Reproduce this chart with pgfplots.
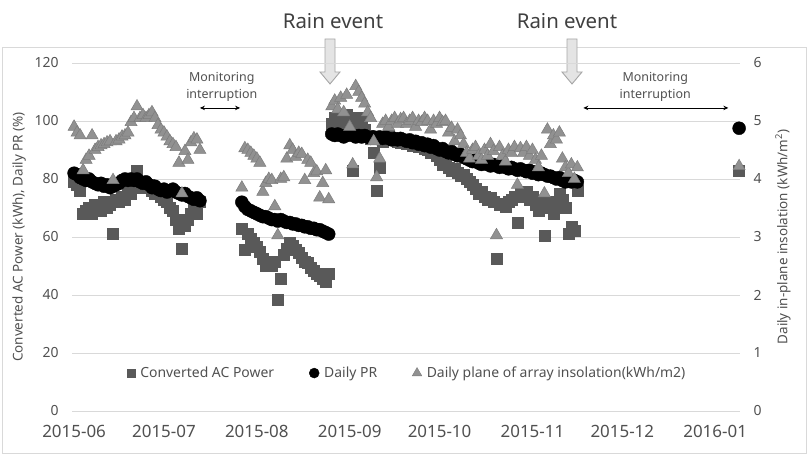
\documentclass[border=0pt]{standalone}
\usepackage{pgfplots}
\pgfplotsset{compat=1.18}
\usepackage{pgfplotstable}
\usepackage{fontspec}
\setmainfont{Noto Sans}
\usetikzlibrary{arrows.meta}

\definecolor{acgray}{HTML}{595959}
\definecolor{insgray}{HTML}{919191}
\definecolor{insedge}{HTML}{7C7C7C}
\definecolor{gridgray}{HTML}{D9D9D9}
\definecolor{txtgray}{HTML}{505050}
\definecolor{headgray}{HTML}{404040}
\definecolor{arrowfill}{HTML}{E4E4E4}
\definecolor{arrowedge}{HTML}{A6A6A6}

% d = days since 2015-06-01, pac = converted AC power (kWh),
% pr = daily performance ratio (%), ins = plane-of-array insolation (kWh/m2)
\pgfplotstableread{
d pac pr ins
0 79 82 4.90
1 78 81.5 4.80
2 76 80.5 4.75
3 68 80 4.15
4 69 79.5 4.33
5 70 80 4.40
6 68 79 4.75
7 71 78.5 4.50
8 70 78 4.55
9 69 78.5 4.58
10 72 77.5 4.60
11 70 78 4.63
12 71 77 4.65
13 61 77.5 3.98
14 73 78 4.65
15 72 78.5 4.68
16 74 79.5 4.73
17 73 80 4.75
18 76 79.5 4.80
19 75 80 4.98
20 77 79.5 5.05
21 83 80 5.25
22 78 79 5.05
23 79 78.5 5.10
24 77 79 5.05
25 78 78 5.10
26 76 77 5.15
27 75 77.5 5.05
28 76 76.5 4.93
29 74 76 4.85
30 73 76.5 4.80
31 72 75.5 4.73
32 70 76 4.65
33 69 76.5 4.60
34 66 75.5 4.55
35 63 75 4.28
36 56 74.5 3.75
37 64 75 4.48
38 66 74 4.33
39 68 73.5 4.63
40 70 73 4.70
41 68 73.5 4.68
42 72 72.5 4.50
56 63 72 3.85
57 55.5 70.5 4.53
58 61 69.5 4.50
59 59.5 69 4.45
60 58 68.5 4.40
61 56.5 68 4.35
62 55 67.5 4.28
63 52.5 67 3.78
64 50 67 3.93
65 51 66.5 4.00
66 50 66 3.98
67 51.5 66 3.53
68 38.5 65.5 3.03
69 45.5 66 4.00
70 54 65.5 4.03
71 56 65 4.35
72 58 65 4.58
73 57 64.5 4.50
74 55.5 64.5 4.38
75 54.5 64 4.45
76 53 64 4.43
77 51.5 63.5 3.98
78 51 63.5 4.33
79 49.5 63 4.28
80 48.5 63 4.10
81 47.5 62.5 4.13
82 46.5 62.5 3.68
83 45.5 62 3.93
84 44.5 61.5 4.15
85 47.5 61 3.65
86 99 95.5 5.25
87 101 95 5.35
88 96 95.5 5.20
89 100 95 5.40
90 98 94.5 5.15
91 102 95 5.45
92 97 95.5 4.90
93 83 95 4.25
94 99 94.5 5.60
95 101 95 5.50
96 100 94.5 5.40
97 97 95 5.30
98 95 94.5 5.15
99 94 94 5.05
100 89 94.5 4.65
101 76 94 4.03
102 84 94.5 4.35
103 93 94 4.95
104 94 94.5 5.00
105 95 94 4.90
106 94 93.5 5.00
107 94 94 5.05
108 93 93.5 4.95
109 92.5 94 5.03
110 93 93.5 5.05
111 92 93 4.95
112 92.5 93.5 5.00
113 91.5 92.5 5.05
114 92 93 4.90
115 91 92 5.00
116 91.5 92.5 4.98
117 90.5 91.5 5.05
118 90 92 5.00
119 89 91 4.85
120 89.5 91.5 5.00
121 88 90.5 4.95
122 86.5 90 5.05
123 85 90.5 4.98
124 85.5 89.5 5.00
125 84 89 4.80
126 83 89.5 4.88
127 83.5 88.5 4.65
128 82 88 4.85
129 81 88.5 4.75
130 81.5 87.5 4.60
131 80 87 4.45
132 79 86.5 4.35
133 78 86 4.50
134 76.5 86.5 4.55
135 75 85.5 4.40
136 75.5 85 4.33
137 74 85.5 4.50
138 73 85 4.40
139 73.5 84.5 4.60
140 72 85 4.48
141 52.5 84.5 3.03
142 71 84 4.55
143 71.5 84.5 4.40
144 70.5 84 4.30
145 72 83.5 4.50
146 73 84 4.45
147 74 83.5 4.55
148 65 83 3.90
149 75 83.5 4.53
150 74 83 4.45
151 75.5 82.5 4.55
152 73 83 4.40
153 74 82 4.50
154 71 82.5 4.33
155 69 81.5 4.20
156 72 82 4.40
157 60.5 81.5 3.75
158 70 81 4.85
159 72 81 4.60
160 68 80.5 4.75
161 71 80 4.68
162 75 80.5 4.80
163 73 79.5 4.35
164 70 79 4.20
165 61 79.5 4.10
166 63.5 79 4.25
167 62 79.5 4.00
168 76 79 4.20
222 83 97.5 4.22
}\pvdata

\pgfplotsset{
  pvbase/.style={
    scale only axis, width=668bp, height=348bp,
    at={(72bp,45bp)}, anchor=south west,
    xmin=-0.7, xmax=222.3, clip=false,
    axis line style={draw=none}, major tick length=0pt,
    /pgf/number format/assume math mode=true,
    tick label style={text=txtgray},
    label style={text=txtgray, font=\fontsize{13.5}{16}\selectfont},
  },
  % legend symbol: one mark of the given size, drawn a little smaller than in the plot
  pvlegend/.style={legend image code/.code={%
    \draw[mark repeat=2,mark phase=2,##1,mark size=#1] plot coordinates {(0bp,0bp)(5bp,0bp)(10bp,0bp)};}},
}

\begin{document}
\begin{tikzpicture}[x=1bp,y=1bp]
\useasboundingbox (0,0) rectangle (808,456);
\draw[gridgray, line width=0.8bp] (2,3) rectangle (806,409);

% rain event markers above the chart
\draw[fill=arrowfill, draw=arrowedge, line width=0.9bp]
  (325,417) -- (335,417) -- (335,384) -- (340,384) -- (330,372) -- (320,384) -- (325,384) -- cycle;
\draw[fill=arrowfill, draw=arrowedge, line width=0.9bp]
  (567,417) -- (577,417) -- (577,384) -- (582,384) -- (572,372) -- (562,384) -- (567,384) -- cycle;
\node[font=\fontsize{20.5}{24}\selectfont, text=headgray] at (333,435) {Rain event};
\node[font=\fontsize{20.5}{24}\selectfont, text=headgray] at (567,435) {Rain event};

\begin{axis}[pvbase,
  ymin=0, ymax=120, ytick={0,20,...,120},
  ymajorgrids, grid style={gridgray, line width=0.8bp},
  xtick={0,30,61,92,122,153,183,214},
  xticklabels={2015-06,2015-07,2015-08,2015-09,2015-10,2015-11,2015-12,2016-01},
  xticklabel style={font=\fontsize{17}{20}\selectfont, yshift=-11bp},
  yticklabel style={font=\fontsize{14}{16}\selectfont, xshift=-10bp},
  ylabel={Converted AC Power (kWh), Daily PR (\%)},
  ylabel style={at={(axis description cs:-0.0793,0.5)}, anchor=center},
  legend columns=3,
  legend style={at={(axis description cs:0.502,0.109)}, anchor=center,
    draw=none, fill=none, font=\fontsize{14}{16}\selectfont, text=txtgray,
    /tikz/every odd column/.append style={column sep=3bp},
    /tikz/every even column/.append style={column sep=33bp}},
]
\addplot[only marks, mark=square*, mark size=5.5bp, color=acgray, pvlegend=4bp]
  table[x=d, y=pac] {\pvdata};
\addlegendentry{Converted AC Power}
\addplot[only marks, mark=*, mark size=6.5bp, color=black, pvlegend=5bp]
  table[x=d, y=pr] {\pvdata};
\addlegendentry{Daily PR}
\addlegendimage{only marks, mark=triangle*, fill=insgray, draw=insedge, pvlegend=5.5bp}
\addlegendentry{Daily plane of array insolation(kWh/m2)}

% monitoring gaps
\draw[{Stealth[length=5bp,width=4.5bp]}-{Stealth[length=5bp,width=4.5bp]}, line width=0.8bp]
  (axis cs:42,104.5) -- (axis cs:55.4,104.5);
\node[align=center, font=\fontsize{12.5}{17}\selectfont, text=txtgray]
  at (axis cs:49.3,111.6) {Monitoring\\interruption};
\draw[{Stealth[length=5bp,width=4.5bp]}-{Stealth[length=5bp,width=4.5bp]}, line width=0.8bp]
  (axis cs:170,104.5) -- (axis cs:218.4,104.5);
\node[align=center, font=\fontsize{12.5}{17}\selectfont, text=txtgray]
  at (axis cs:194,111.6) {Monitoring\\interruption};
\end{axis}

\begin{axis}[pvbase,
  hide x axis,
  ymin=0, ymax=6, ytick={0,1,...,6},
  yticklabel pos=right,
  yticklabel style={font=\fontsize{14}{16}\selectfont, xshift=10bp},
  ylabel={Daily in-plane insolation (kWh/m\textsuperscript{2})},
  ylabel style={at={(axis description cs:1.0644,0.5)}, anchor=center},
]
\addplot[only marks, mark=triangle*, mark size=7bp, fill=insgray, draw=insedge, line width=0.5bp]
  table[x=d, y=ins] {\pvdata};
\end{axis}
\end{tikzpicture}
\end{document}
